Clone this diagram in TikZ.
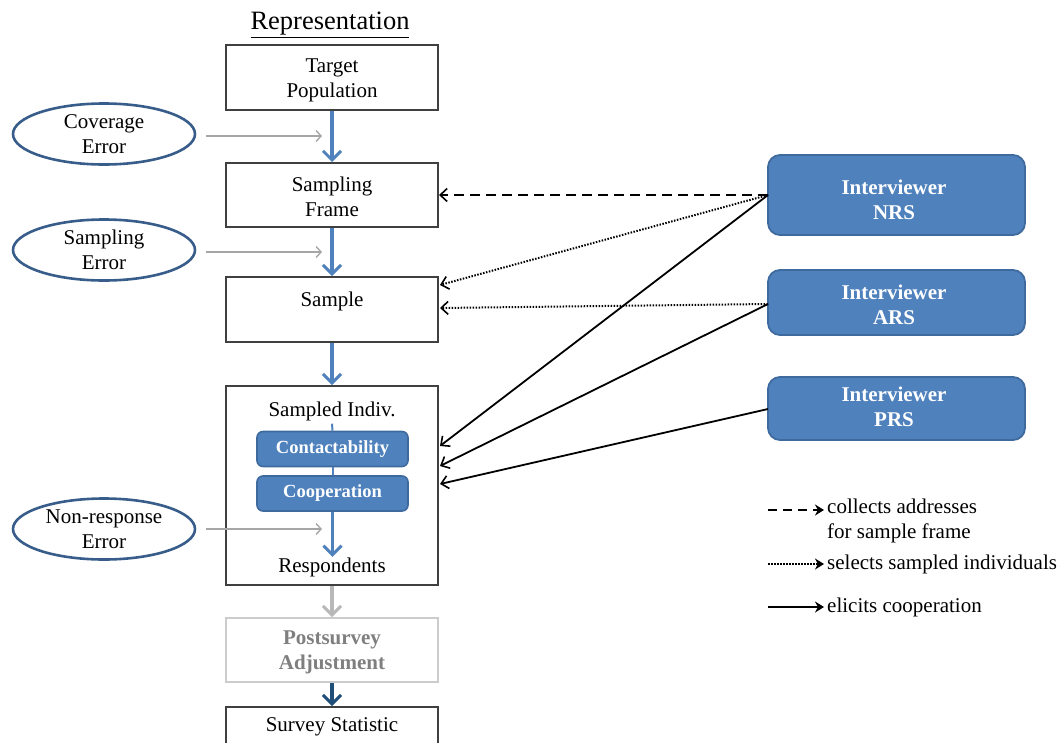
\documentclass[tikz,border=0pt]{standalone}
\usepackage{fontspec}
\setmainfont{Liberation Serif}
\usetikzlibrary{arrows.meta,shapes.geometric,calc}
\definecolor{ibox}{HTML}{4F81BD}
\definecolor{iborder}{HTML}{3F6A9E}
\definecolor{ell}{HTML}{385D8A}
\definecolor{flow}{HTML}{4F81BD}
\definecolor{dflow}{HTML}{1F4E79}
\definecolor{gline}{HTML}{A6A6A6}
\definecolor{pgray}{HTML}{7F7F7F}
\tikzset{
  box/.style={draw=black!75, line width=2pt, minimum width=212},
  ibx/.style={draw=iborder, fill=ibox, line width=1.8pt, rounded corners=12pt, minimum width=257},
  itxt/.style={align=center, text=white, inner sep=0pt, font=\fontsize{21}{25}\selectfont\bfseries},
  sbx/.style={draw=iborder, fill=ibox, line width=1.6pt, rounded corners=6pt, minimum width=151, minimum height=35, text=white, font=\fontsize{18.5}{20}\selectfont\bfseries},
  err/.style={ellipse, draw=ell, line width=2.6pt, minimum width=182, minimum height=61, inner sep=0pt, align=center, font=\fontsize{21}{25}\selectfont},
  flowarr/.style={draw=flow, line width=3.6pt, -{Straight Barb[length=9pt,width=18pt,line width=3pt]}},
  errarr/.style={draw=gline, line width=1.5pt, -{Straight Barb[length=5pt,width=11pt,line width=1.4pt]}},
  iarr/.style={draw=black, line width=1.8pt, -{Straight Barb[length=7pt,width=13pt,line width=1.6pt]}},
  txt/.style={font=\fontsize{21}{25}\selectfont, inner sep=0pt, align=center},
}
\begin{document}
\begin{tikzpicture}[x=1pt,y=-1pt]
\useasboundingbox (0,0) rectangle (1062,742);
% title
\node[font=\fontsize{26.5}{30}\selectfont, inner sep=0pt] (title) at (330,25) {\underline{Representation}};
% main boxes
\node[box, minimum height=65] (tp) at (332,77.5) {};
\node[txt] (tpt) at (332,80) {Target\\Population};
\node[box, minimum height=64] (sf) at (332,195) {};
\node[txt] (sft) at (332,197) {Sampling\\Frame};
\node[box, minimum height=65] (sa) at (332,309.5) {};
\node[txt] (sat) at (332,301) {Sample};
\node[box, minimum height=199] (si) at (332,485.5) {};
\node[box, draw=black!20, minimum height=64] (pa) at (332,650) {};
\node[txt, text=pgray, font=\fontsize{21}{25}\selectfont\bfseries] (pat) at (332,652) {Postsurvey\\Adjustment};
\node[box, minimum height=64, anchor=north] (ss) at (332,706) {};
\node[txt] (sst) at (332,727) {Survey Statistic};
% inner nodes
\node[txt] (sil) at (332,411) {Sampled Indiv.};
\node[sbx] (ct) at (332.5,449) {Contactability};
\node[sbx] (co) at (332.5,493.5) {Cooperation};
\node[txt] (resp) at (332,567) {Respondents};
% flow arrows
\draw[flowarr] (tp.south) -- (sf.north);
\draw[flowarr] (sf.south) -- (sa.north);
\draw[flowarr] (sa.south) -- (si.north);
\draw[draw=flow, line width=2pt] (sil.south) ++(0,3) -- (ct.north);
\draw[draw=flow, line width=2pt] (ct.south) -- (co.north);
\draw[flowarr] (co.south) -- ++(0,45) coordinate (respin);
\draw[flowarr, draw=gline!80] (si.south) -- (pa.north);
\draw[flowarr, draw=dflow] (pa.south) -- (ss.north);
% error ellipses
\node[err] (ce) at (104,134) {Coverage\\Error};
\node[err] (se) at (104,250) {Sampling\\Error};
\node[err] (ne) at (104,529) {Non-response\\Error};
\coordinate (cet) at (322,136);
\coordinate (set) at (322,252);
\coordinate (net) at (322,529);
\draw[errarr, shorten <=10pt] (ce.east |- cet) -- (cet);
\draw[errarr, shorten <=10pt] (se.east |- set) -- (set);
\draw[errarr, shorten <=10pt] (ne.east |- net) -- (net);
% interviewers
\node[ibx, minimum height=80] (nrs) at (896.5,195) {};
\node[itxt] (nrst) at (894,200) {Interviewer\\NRS};
\node[ibx, minimum height=65] (ars) at (896.5,302.5) {};
\node[itxt] (arst) at (894,305) {Interviewer\\ARS};
\node[ibx, minimum height=63] (prs) at (896.5,408.5) {};
\node[itxt] (prst) at (894,407) {Interviewer\\PRS};
\coordinate (nrsw) at (768,195);
\coordinate (arsw) at (768,304);
\coordinate (prsw) at (768,409);
\coordinate (saA) at (440,285);
\coordinate (saB) at (440,308);
\coordinate (siA) at (440,446);
\coordinate (siB) at (440,466);
\coordinate (siC) at (440,484);
\draw[iarr, dash pattern=on 10pt off 6pt] (nrsw) -- (sf.east);
\draw[iarr, line width=2pt, dash pattern=on 1.5pt off 1.5pt] (nrsw) -- (saA);
\draw[iarr, line width=2pt, dash pattern=on 1.5pt off 1.5pt] (arsw) -- (saB);
\draw[iarr] (nrsw) -- (siA);
\draw[iarr] (arsw) -- (siB);
\draw[iarr] (prsw) -- (siC);
% legend
\coordinate (l1a) at (768,510); \coordinate (l1b) at (824,510);
\coordinate (l2a) at (768,564); \coordinate (l2b) at (824,564);
\coordinate (l3a) at (768,607); \coordinate (l3b) at (824,607);
\draw[line width=2pt, dash pattern=on 9pt off 6pt, -{Stealth[length=9pt,width=11pt]}] (l1a) -- (l1b);
\draw[line width=1.6pt, dash pattern=on 1.5pt off 1.5pt, -{Stealth[length=9pt,width=11pt]}] (l2a) -- (l2b);
\draw[line width=2pt, -{Stealth[length=9pt,width=11pt]}] (l3a) -- (l3b);
\node[txt, anchor=west, align=left] (lt1) at (827,521) {collects addresses\\for sample frame};
\node[txt, anchor=west] (lt2) at (827,564) {selects sampled individuals};
\node[txt, anchor=west] (lt3) at (827,607) {elicits cooperation};
\end{tikzpicture}
\end{document}
